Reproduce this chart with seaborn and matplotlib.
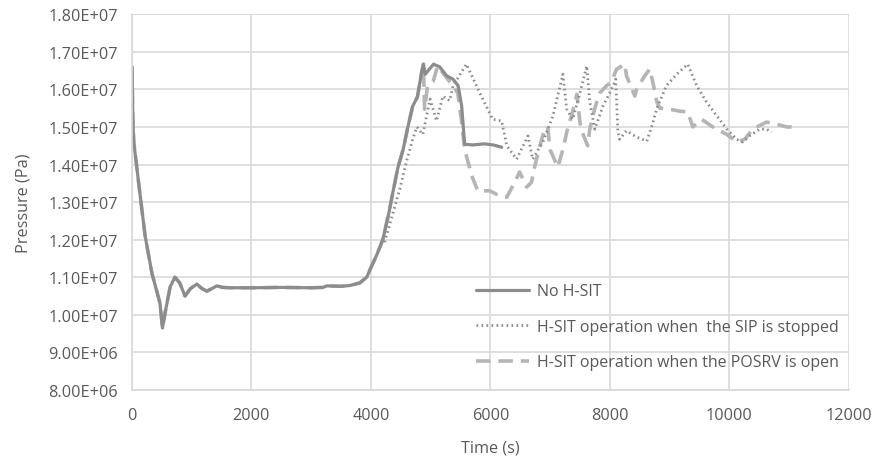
import pandas as pd
import matplotlib.pyplot as plt
import seaborn as sns
from matplotlib.ticker import FuncFormatter, MultipleLocator

# common early transient (all cases follow the same path before H-SIT acts)
early_t = [0, 15, 30, 120, 220, 335, 420, 470, 510, 560, 640, 720, 800, 887, 980,
           1088, 1170, 1255, 1340, 1420, 1520, 1640, 2000, 2500, 3000, 3200, 3260,
           3500, 3650, 3815, 3930, 3985, 4100, 4200, 4300, 4370, 4450, 4540, 4620,
           4700, 4780, 4850, 4880]
early_p = [16.6, 15.2, 14.6, 13.4, 12.1, 11.1, 10.6, 10.3, 9.65, 10.1, 10.75, 11.0,
           10.85, 10.5, 10.7, 10.82, 10.7, 10.63, 10.7, 10.77, 10.73, 10.72, 10.72,
           10.73, 10.72, 10.73, 10.77, 10.76, 10.78, 10.85, 11.0, 11.2, 11.6, 12.0,
           12.7, 13.27, 13.9, 14.4, 15.0, 15.55, 15.8, 16.46, 16.67]

# No H-SIT
nohsit_t = [4910, 4960, 5050, 5150, 5270, 5375, 5460, 5520, 5570, 5700, 5900, 6050, 6190]
nohsit_p = [16.4, 16.5, 16.67, 16.6, 16.36, 16.27, 16.1, 15.56, 14.54, 14.52, 14.55, 14.52, 14.46]

# H-SIT operation when the SIP is stopped
sip_t = [4230, 4350, 4485, 4600, 4700, 4770, 4870, 4990, 5100, 5205, 5320, 5375, 5600,
         5825, 6040, 6190, 6275, 6440, 6630, 6710, 6880, 7050, 7215, 7280, 7380, 7500,
         7615, 7665, 7750, 7885, 8030, 8100, 8135, 8165, 8280, 8450, 8620, 8700, 8790,
         8950, 9120, 9305, 9455, 9620, 9790, 9960, 10125, 10225, 10340, 10510, 10625, 10710]
sip_p = [11.93, 12.6, 13.35, 14.1, 14.67, 15.0, 14.8, 15.74, 15.16, 15.82, 15.7, 16.09,
         16.67, 15.9, 15.2, 15.16, 14.5, 14.14, 14.76, 14.14, 14.6, 15.3, 16.4, 15.47,
         15.2, 15.9, 16.62, 15.66, 14.94, 15.55, 16.0, 16.27, 14.9, 14.67, 14.9, 14.73,
         14.62, 15.0, 15.5, 16.1, 16.4, 16.67, 16.1, 15.66, 15.3, 14.94, 14.67, 14.6,
         14.76, 14.94, 14.94, 14.86]

# H-SIT operation when the POSRV is open
posrv_t = [4900, 4950, 5040, 5120, 5320, 5455, 5520, 5570, 5690, 5790, 5990, 6160, 6275,
           6410, 6490, 6610, 6690, 6745, 6830, 6910, 6960, 7000, 7130, 7215, 7300, 7360,
           7450, 7500, 7530, 7630, 7665, 7750, 7830, 7950, 8030, 8110, 8250, 8280, 8420,
           8450, 8585, 8670, 8720, 8790, 8840, 9005, 9170, 9305, 9390, 9540, 9725, 9960,
           10125, 10260, 10390, 10625, 10795, 10960, 11100]
posrv_p = [15.47, 16.1, 16.2, 16.62, 16.2, 15.9, 15.13, 14.4, 13.7, 13.3, 13.3, 13.16,
           13.13, 13.53, 13.8, 13.4, 13.53, 13.96, 14.5, 14.94, 15.0, 14.4, 13.93, 14.4,
           15.0, 15.3, 15.87, 15.13, 14.9, 14.5, 14.94, 15.5, 15.9, 16.1, 16.2, 16.53,
           16.67, 16.36, 15.82, 16.0, 16.36, 16.54, 16.2, 15.66, 15.5, 15.47, 15.42, 15.4,
           15.0, 15.2, 15.0, 14.8, 14.6, 14.67, 14.94, 15.13, 15.07, 15.0, 15.0]

labels = ["No H-SIT",
          "H-SIT operation when  the SIP is stopped",
          "H-SIT operation when the POSRV is open"]

df_no = pd.DataFrame({"t": early_t + nohsit_t, "p": [v * 1e6 for v in early_p + nohsit_p]})
df_sip = pd.DataFrame({"t": sip_t, "p": [v * 1e6 for v in sip_p]})
df_posrv = pd.DataFrame({"t": early_t + posrv_t, "p": [v * 1e6 for v in early_p + posrv_p]})

sns.set_style("whitegrid")
plt.rcParams["font.family"] = ["Open Sans", "DejaVu Sans"]
txt = "#595959"
grid_c = "#d9d9d9"
fs = 11.5

fig = plt.figure(figsize=(8.74, 4.6), dpi=100)
ax = fig.add_axes([0.151, 0.15, 0.820, 0.817])

sns.lineplot(data=df_posrv, x="t", y="p", sort=False, ax=ax, color="#b5b5b5",
             linewidth=2.6, label=labels[2], dashes=False)
ax.lines[-1].set_dashes([4, 2.2])
sns.lineplot(data=df_no, x="t", y="p", sort=False, ax=ax, color="#8c8c8c",
             linewidth=2.3, label=labels[0])
sns.lineplot(data=df_sip, x="t", y="p", sort=False, ax=ax, color="#8c8c8c",
             linewidth=2.0, label=labels[1])
ax.lines[-1].set_linestyle((0, (0.6, 1.2)))

ax.set_xlim(0, 12000)
ax.set_ylim(8e6, 1.8e7)
ax.xaxis.set_major_locator(MultipleLocator(2000))
ax.yaxis.set_major_locator(MultipleLocator(1e6))
ax.yaxis.set_major_formatter(FuncFormatter(lambda v, pos: f"{v:.2E}"))
ax.grid(True, color=grid_c, linewidth=1.2)
for s in ["top", "right"]:
    ax.spines[s].set_visible(False)
for s in ["left", "bottom"]:
    ax.spines[s].set_color(grid_c)
    ax.spines[s].set_linewidth(1.2)
ax.tick_params(length=0, labelsize=11.7, colors=txt)
ax.tick_params(axis="y", pad=10)
ax.tick_params(axis="x", pad=12)
ax.set_xlabel("Time (s)", fontsize=11.7, color=txt, labelpad=12)
ax.set_ylabel("Pressure (Pa)", fontsize=11.7, color=txt, labelpad=12)

handles, lbls = ax.get_legend_handles_labels()
order = [lbls.index(l) for l in labels]
ax.legend([handles[i] for i in order], [lbls[i] for i in order],
          loc="upper left", bbox_to_anchor=(0.4685, 0.305), frameon=False,
          handlelength=3.35, handletextpad=0.5, labelspacing=1.22, borderpad=0,
          fontsize=fs, labelcolor=txt)

fig.savefig("out.png", dpi=100)
